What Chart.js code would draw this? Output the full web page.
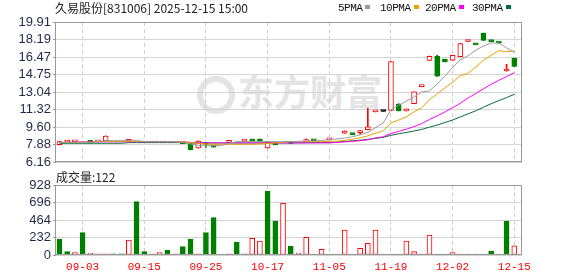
<!DOCTYPE html>
<html>
<head>
<meta charset="utf-8">
<script src="https://cdn.jsdelivr.net/npm/chart.js@4.4.1/dist/chart.umd.min.js"></script>
<style>
  body { margin: 0; background: #fff; }
  #wrap { position: relative; width: 578px; height: 276px; overflow: hidden; font-family: "Noto Sans CJK SC", sans-serif; }
  canvas { position: absolute; left: 0; }
  .txt { position: absolute; white-space: nowrap; }
  #title { left: 55px; top: 0px; font-size: 12px; line-height: 16px; color: #222; }
  #volTitle { left: 56px; top: 169px; font-size: 12px; line-height: 16px; color: #222; }
  .lg { position: absolute; top: 2px; font: 11px "Liberation Mono", monospace; letter-spacing: -0.5px; line-height: 13px; color: #111; white-space: nowrap; }
  .lg i { display: inline-block; width: 5px; height: 4px; margin-left: 3px; vertical-align: 2px; }
  #wmLogo { position: absolute; left: 197px; top: 76px; width: 26px; height: 26px; border: 6px solid #e4e4e4; border-radius: 50%; }
  #wmText { position: absolute; left: 238px; top: 68px; font-size: 36px; font-weight: bold; line-height: 44px; color: #e4e4e4; }
</style>
</head>
<body>
<div id="wrap">
  <div id="wmLogo"></div>
  <div id="wmText" class="txt">东方财富</div>
  <canvas id="price" width="578" height="172" style="top:0"></canvas>
  <canvas id="vol" width="578" height="104" style="top:172px"></canvas>
  <div id="title" class="txt">久易股份[831006] 2025-12-15 15:00</div>
  <div id="volTitle" class="txt"></div>
  <div id="legend"></div>
</div>
<script>
// daily candles, 60 sessions (09-03 ... 12-15); null = body hidden behind the averages
const opens  = [7.88, 8.13, 8.15, null, 8.30, 8.16, 8.25, null, null, 8.18,
                null, null, null, null, null, null, 8.05, 7.98, 7.55, 7.98,
                7.67, null, 8.10, null, 8.22, 8.29, 8.26, 7.55, 7.89, null,
                8.10, null, 8.18, 8.29, null, 8.35, null, 9.00, 8.90, 9.05,
                9.36, 11.10, 11.13, 11.23, 11.83, 11.20, 11.91, 13.57, 16.15, 16.57,
                16.26, 16.16, 16.52, 18.00, 17.72, 18.82, 18.02, 17.88, 15.10, 16.35];
const closes = [8.18, 8.18, 8.19, null, 8.06, 8.19, 8.73, null, null, 8.40,
                null, null, null, null, null, null, 7.98, 7.38, 8.24, 7.92,
                7.64, null, 8.15, null, 8.27, 8.26, 8.21, 8.14, 7.86, null,
                8.01, null, 8.23, 8.26, null, 8.39, null, 9.22, 8.87, 9.27,
                9.62, 11.15, 11.13, 16.03, 11.19, 11.35, 13.05, 13.62, 16.55, 14.59,
                16.00, 16.64, 17.80, 18.04, 17.68, 18.11, 17.98, 17.84, 15.25, 15.55];
const highs  = [8.20, 8.19, 8.20, null, 8.31, 8.20, 8.74, null, null, 8.41,
                null, null, null, null, null, null, 8.06, 7.99, 8.25, 7.99,
                7.68, null, 8.16, null, 8.28, 8.30, 8.44, 8.15, 7.90, null,
                8.11, null, 8.44, 8.30, null, 8.40, null, 9.23, 8.91, 9.28,
                11.45, 11.16, 11.13, 16.04, 11.90, 11.36, 13.06, 13.63, 16.56, 16.67,
                16.27, 16.65, 17.81, 18.05, 17.73, 18.83, 18.03, 17.89, 15.77, 16.36];
const lows   = [7.86, 8.12, 8.14, null, 8.05, 8.15, 8.24, null, null, 8.17,
                null, null, null, null, null, null, 7.97, 7.37, 7.54, 7.60,
                7.63, null, 8.09, null, 8.21, 8.25, 8.20, 7.54, 7.85, null,
                8.00, null, 8.17, 8.25, null, 8.34, null, 8.99, 8.86, 8.90,
                9.35, 11.09, 11.13, 11.22, 11.18, 11.19, 11.90, 13.56, 16.14, 14.58,
                15.99, 16.15, 16.51, 17.99, 17.67, 18.10, 17.97, 17.83, 15.09, 15.54];

// volume (lots) and its colour direction: 1 red, -1 green
const volumes = [208, 44, 31, 296, 22, 15, 15, 15, 15, 199,
                 707, 44, 15, 31, 66, 15, 110, 212, 15, 296,
                 495, 0, 15, 172, 15, 221, 186, 849, 451, 685,
                 119, 27, 234, 13, 75, 13, 13, 331, 13, 88,
                 155, 331, 13, 13, 13, 186, 44, 13, 265, 13,
                 13, 31, 13, 13, 13, 13, 53, 13, 451, 122];
const volDir  = [-1, -1, 1, -1, 1, 1, 1, -1, -1, 1,
                 -1, -1, 1, 1, -1, 1, -1, -1, 1, -1,
                 -1, 1, 1, -1, 1, 1, 1, -1, -1, 1,
                 -1, 1, 1, -1, 1, 1, 1, 1, -1, 1,
                 1, 1, 1, 1, -1, 1, 1, 1, 1, -1,
                 -1, 1, 1, 1, -1, -1, -1, -1, -1, 1];

// moving averages as drawn
const ma5  = [8.10, 8.10, 8.12, 8.12, 8.10, 8.15, 8.27, 8.27, 8.27, 8.27,
              8.27, 8.20, 8.20, 8.20, 8.20, 8.18, 8.10, 7.95, 7.82, 7.80,
              7.78, 7.80, 8.00, 8.18, 8.18, 8.18, 8.18, 8.18, 8.18, 8.18,
              8.18, 8.20, 8.22, 8.25, 8.30, 8.37, 8.45, 8.52, 8.65, 8.85,
              9.08, 9.55, 10.00, 11.30, 11.75, 12.15, 12.55, 13.04, 13.15, 13.83,
              14.60, 15.45, 16.20, 16.60, 17.15, 17.55, 17.85, 17.85, 17.37, 16.92];
const ma10 = [8.10, 8.10, 8.10, 8.10, 8.12, 8.18, 8.20, 8.20, 8.20, 8.20,
              8.20, 8.18, 8.18, 8.18, 8.18, 8.18, 8.15, 8.10, 8.02, 7.95,
              7.92, 7.92, 7.92, 7.92, 7.92, 7.92, 7.95, 8.00, 8.05, 8.12,
              8.18, 8.18, 8.18, 8.18, 8.18, 8.20, 8.22, 8.30, 8.40, 8.55,
              8.75, 9.00, 9.25, 10.00, 10.30, 10.60, 11.10, 11.50, 12.30, 12.85,
              13.45, 14.00, 14.65, 14.85, 15.50, 16.15, 16.65, 17.10, 17.00, 17.08];
const ma20 = [8.10, 8.10, 8.12, 8.16, 8.16, 8.16, 8.16, 8.16, 8.16, 8.16,
              8.16, 8.16, 8.16, 8.16, 8.16, 8.16, 8.16, 8.10, 8.05, 8.05,
              8.05, 8.05, 8.05, 8.05, 8.05, 8.05, 8.05, 8.05, 8.05, 8.05,
              8.05, 8.05, 8.05, 8.05, 8.05, 8.05, 8.10, 8.15, 8.20, 8.27,
              8.35, 8.55, 8.65, 8.98, 9.18, 9.40, 9.65, 9.95, 10.35, 10.70,
              11.08, 11.50, 11.95, 12.45, 12.90, 13.35, 13.80, 14.20, 14.55, 14.95];
const ma30 = [8.02, 8.02, 8.02, 8.02, 8.02, 8.02, 8.02, 8.02, 8.02, 8.08,
              8.08, 8.08, 8.08, 8.08, 8.08, 8.08, 8.08, 8.05, 8.05, 8.05,
              8.05, 8.05, 8.05, 8.05, 8.05, 8.05, 8.05, 8.05, 8.05, 8.05,
              8.05, 8.06, 8.07, 8.08, 8.09, 8.10, 8.13, 8.20, 8.25, 8.32,
              8.40, 8.50, 8.60, 8.80, 8.95, 9.08, 9.22, 9.38, 9.60, 9.80,
              10.05, 10.30, 10.60, 10.90, 11.20, 11.55, 11.90, 12.20, 12.50, 12.82];

const maNames  = ['5PMA', '10PMA', '20PMA', '30PMA'];
const maColors = ['#9a9a9a', '#f0a000', '#ff00ff', '#006c35'];

const priceTicks = [6.16, 7.88, 9.60, 11.32, 13.04, 14.75, 16.47, 18.19, 19.91];
const volTicks   = [0, 232, 464, 696, 928];
const tickIdx    = [3, 11, 19, 27, 35, 43, 51, 59];
const tickLabels = ['09-03', '09-15', '09-25', '10-17', '11-05', '11-19', '12-02', '12-15'];

const RED = '#ff0000', GREEN = '#008000';

// legend + volume caption
const legendX = [338, 380, 425, 472];
const legend = document.getElementById('legend');
maNames.forEach((n, k) => {
  const el = document.createElement('div');
  el.className = 'lg';
  el.style.left = legendX[k] + 'px';
  el.innerHTML = n + '<i style="background:' + maColors[k] + '"></i>';
  legend.appendChild(el);
});
document.getElementById('volTitle').textContent = '成交量:' + volumes[volumes.length - 1];

const idx = volumes.map((_, i) => i);
const candleColor = (i) => {
  if (closes[i] > opens[i]) return RED;
  if (closes[i] < opens[i]) return GREEN;
  return '#000';
};

const frame = {
  id: 'frame',
  afterDatasetsDraw(chart) {
    const a = chart.chartArea, c = chart.ctx;
    c.save();
    c.strokeStyle = '#999';
    c.lineWidth = 1;
    c.strokeRect(Math.round(a.left) - 0.5, Math.round(a.top) + 0.5,
                 Math.round(a.right - a.left), Math.round(a.bottom - a.top) - 1);
    c.restore();
  }
};

const xScale = (showLabels) => ({
  type: 'linear',
  min: -0.45,
  max: 60,
  offset: false,
  afterBuildTicks: (s) => { s.ticks = tickIdx.map(v => ({ value: v })); },
  ticks: {
    display: showLabels,
    autoSkip: false,
    maxRotation: 0,
    padding: 5,
    color: RED,
    font: { family: 'Liberation Mono', size: 11 },
    callback: (v) => tickLabels[tickIdx.indexOf(v)]
  },
  grid: { color: '#cfcfcf', drawTicks: false, offset: false },
  border: { display: false, dash: [4, 3] },
  afterFit: (s) => { s.height = showLabels ? 21 : 0; }
});

const yScale = (min, max, ticks, fmt) => ({
  min: min,
  max: max,
  afterBuildTicks: (s) => { s.ticks = ticks.map(v => ({ value: v })); },
  ticks: {
    autoSkip: false,
    padding: 2,
    color: '#1d2b48',
    font: { family: 'Liberation Sans', size: 13 },
    callback: fmt
  },
  grid: { color: '#d4d4d4', tickColor: '#999', tickLength: 3 },
  border: { display: false },
  afterFit: (s) => { s.width = 56; }
});

// price chart
new Chart(document.getElementById('price'), {
  type: 'bar',
  data: {
    datasets: [
      ...[ma5, ma10, ma20, ma30].map((arr, k) => ({
        type: 'line',
        label: maNames[k],
        data: idx.map(i => ({ x: i, y: arr[i] })),
        borderColor: maColors[k],
        borderWidth: 1,
        pointRadius: 0,
        tension: 0,
        order: 0
      })),
      {
        label: 'body',
        data: idx.map(i => ({ x: i, y: opens[i] == null ? null : [opens[i], closes[i]] })),
        grouped: false,
        barThickness: 5,
        minBarLength: 2,
        borderWidth: 1,
        borderSkipped: false,
        backgroundColor: (ctx) => closes[ctx.dataIndex] > opens[ctx.dataIndex] ? '#fff' : candleColor(ctx.dataIndex),
        borderColor: (ctx) => candleColor(ctx.dataIndex),
        order: 1
      },
      {
        label: 'wick',
        data: idx.map(i => ({ x: i, y: highs[i] == null ? null : [lows[i], highs[i]] })),
        grouped: false,
        barThickness: 1,
        borderWidth: 0,
        backgroundColor: (ctx) => candleColor(ctx.dataIndex),
        order: 2
      }
    ]
  },
  options: {
    responsive: false,
    animation: false,
    events: [],
    layout: { padding: { left: 0, right: 56, top: 22, bottom: 7 } },
    plugins: { legend: { display: false }, tooltip: { enabled: false } },
    scales: {
      x: xScale(false),
      y: yScale(6.16, 19.91, priceTicks, (v) => v.toFixed(2))
    }
  },
  plugins: [frame]
});

// volume chart
new Chart(document.getElementById('vol'), {
  type: 'bar',
  data: {
    datasets: [{
      label: 'volume',
      data: idx.map(i => ({ x: i, y: volumes[i] })),
      barThickness: 5,
      borderWidth: 1,
      borderSkipped: false,
      backgroundColor: (ctx) => volDir[ctx.dataIndex] > 0 ? '#fff' : GREEN,
      borderColor: (ctx) => volDir[ctx.dataIndex] > 0 ? RED : GREEN
    }]
  },
  options: {
    responsive: false,
    animation: false,
    events: [],
    layout: { padding: { left: 0, right: 56, top: 13, bottom: 0 } },
    plugins: { legend: { display: false }, tooltip: { enabled: false } },
    scales: {
      x: xScale(true),
      y: yScale(0, 928, volTicks, (v) => String(v))
    }
  },
  plugins: [frame]
});
</script>
</body>
</html>
